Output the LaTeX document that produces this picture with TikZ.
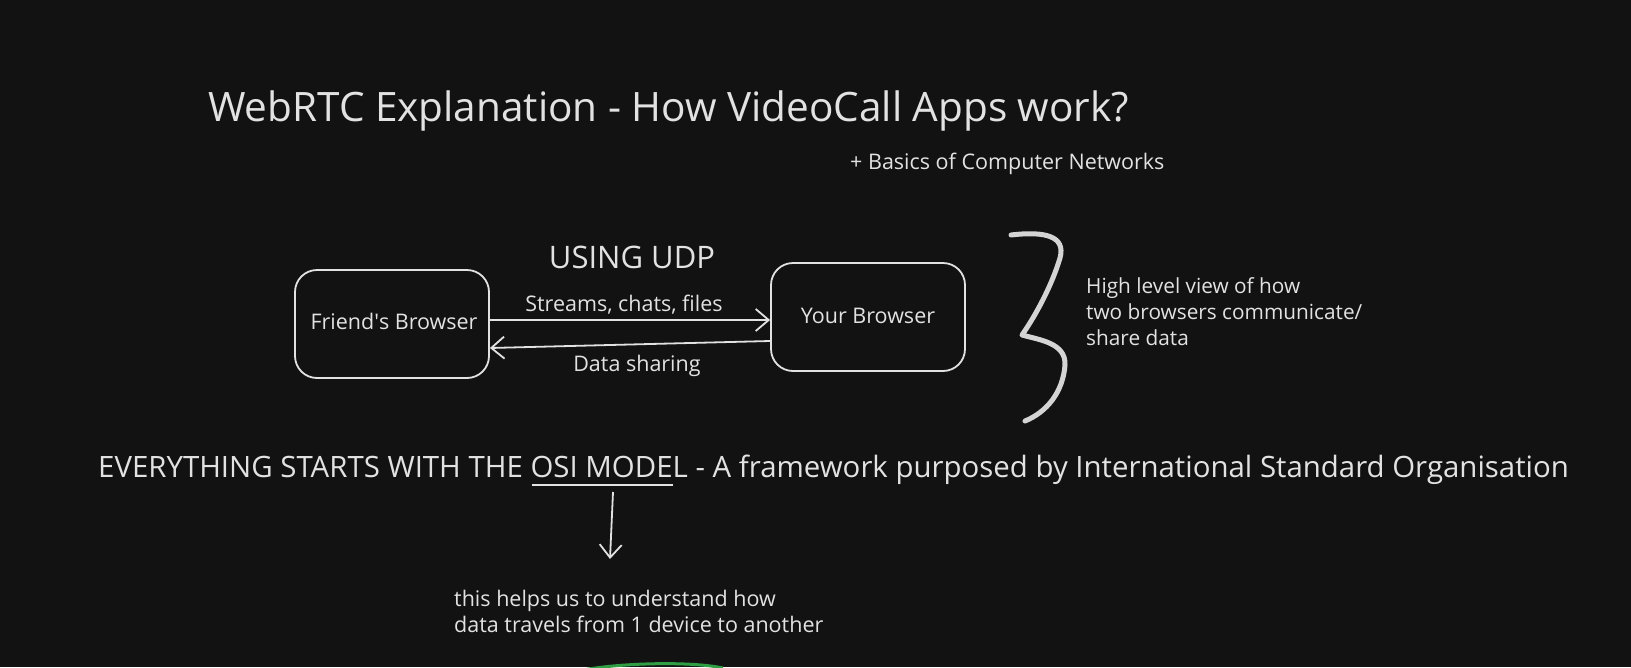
\documentclass[tikz,border=0pt]{standalone}
\usepackage{fontspec}
\setmainfont{Open Sans}
\usetikzlibrary{arrows.meta}
\definecolor{bg}{HTML}{121212}
\definecolor{ink}{HTML}{E2E2E2}
\definecolor{brc}{HTML}{D4D4D4}
\definecolor{grn}{HTML}{2F9E44}
\newlength\myulwd
\newcommand\myul[1]{\settowidth\myulwd{#1}\rlap{\kern1pt\color{ink}\rule[-9pt]{0.9\myulwd}{2pt}}#1}
\begin{document}
\begin{tikzpicture}[x=1pt,y=-1pt,
  txt/.style={text=ink, inner sep=0pt, font=\fontsize{21.5}{26}\selectfont},
  sidetxt/.style={text=ink, inner sep=0pt, font=\fontsize{20.8}{26}\selectfont},
  bigtxt/.style={text=ink, inner sep=0pt, font=\fontsize{40.5}{48}\selectfont},
  midtxt/.style={text=ink, inner sep=0pt, font=\fontsize{29.4}{35}\selectfont},
  udptxt/.style={text=ink, inner sep=0pt, font=\fontsize{31}{36}\selectfont},
  box/.style={draw=ink, line width=1.8pt, rounded corners=22pt, inner sep=0pt,
    minimum width=194pt, minimum height=108pt},
  arr/.style={draw=ink, line width=1.8pt, -{Straight Barb[length=13pt,width=22pt]}},
  brace/.style={draw=brc, line width=5pt, line cap=round, line join=round},
]
\fill[bg] (0,0) rectangle (1631,667);
\useasboundingbox (0,0) rectangle (1631,667);

% title
\node[bigtxt, anchor=base west] (title) at (208,121) {WebRTC Explanation - How VideoCall Apps work?};
\node[txt, anchor=base west] (sub) at (850,169) {+ Basics of Computer Networks};

% boxes
\node[box] (friend) at (392,324) {};
\node[box] (your) at (868,317) {};
\node[txt, anchor=base] (friendlbl) at (394,329) {Friend\textquotesingle s Browser};
\node[txt, anchor=base] (yourlbl) at (868,323) {Your Browser};

\node[udptxt, anchor=base] (udp) at (632,268) {USING UDP};

% connectors
\draw[arr] ([yshift=4pt]friend.east) -- ([yshift=-3pt]your.west);
\draw[arr] ([yshift=-24pt]your.west) -- ([yshift=-24pt]friend.east);
\node[txt, anchor=base] (streams) at (624,311) {Streams, chats, files};
\node[txt, anchor=base] (sharing) at (637,371) {Data sharing};

% brace
\draw[brace] (1011,235) .. controls (1045,231) and (1066,236) .. (1060,258)
  .. controls (1052,285) and (1036,315) .. (1022,335)
  .. controls (1040,340) and (1066,343) .. (1065,365)
  .. controls (1063,392) and (1047,412) .. (1025,421);
\node[sidetxt, anchor=north west, align=left] (side) at (1086,277)
  {High level view of how\\two browsers communicate/\\share data};

% OSI line
\node[midtxt, anchor=base west] (osi) at (98,477)
  {EVERYTHING STARTS WITH THE \myul{OSI MODEL} - A framework purposed by International Standard Organisation};
\coordinate (dnA) at (613,492);
\coordinate (dnB) at (610,559);
\draw[arr] (dnA) -- (dnB);

\node[txt, anchor=north west, align=left] (helps) at (454,590)
  {this helps us to understand how\\data travels from 1 device to another};

% green shape peeking at bottom
\draw[draw=grn, line width=3pt] (583,670) .. controls (620,663) and (690,661) .. (723,668);
\end{tikzpicture}
\end{document}
